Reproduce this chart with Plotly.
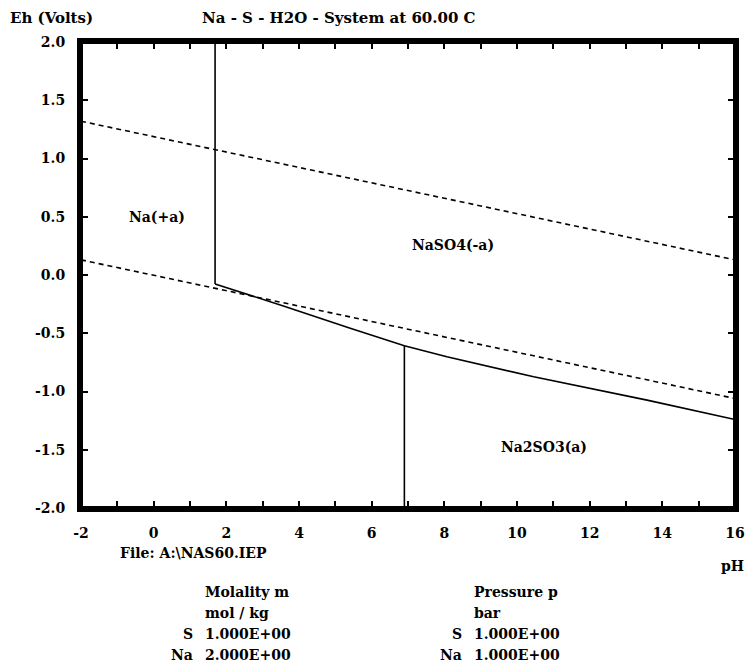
import plotly.graph_objects as go

# ---- data ----
ph_upper_water = [-2, 16]
eh_upper_water = [1.32, 0.13]
ph_lower_water = [-2, 16]
eh_lower_water = [0.13, -1.06]

ph_b1 = [1.69, 1.69]
eh_b1 = [2.0, -0.077]
ph_b2 = [1.69, 3.57, 5.41, 6.90, 8.07, 10.46, 13.58, 16.0]
eh_b2 = [-0.077, -0.266, -0.458, -0.607, -0.701, -0.874, -1.074, -1.24]
ph_b3 = [6.90, 6.90]
eh_b3 = [-0.607, -2.0]

label_text = ["Na(+a)", "NaSO4(-a)", "Na2SO3(a)"]
label_ph = [0.1, 8.25, 10.75]
label_eh = [0.5, 0.26, -1.48]

x_tickvals = list(range(-2, 17))
x_ticktext = [str(v) if v % 2 == 0 else "" for v in x_tickvals]
y_tickvals = [-2.0, -1.5, -1.0, -0.5, 0.0, 0.5, 1.0, 1.5, 2.0]
y_ticktext = ["-2.0", "-1.5", "-1.0", "-0.5", "0.0", "0.5", "1.0", "1.5", "2.0"]

FONT = "DejaVu Serif"
W, H = 749, 671
L, R, T, B = 81, 735, 42, 508

fig = go.Figure()
dash_style = dict(color="black", width=1.6, dash="5px,4px")
fig.add_trace(go.Scatter(x=ph_upper_water, y=eh_upper_water, mode="lines", line=dash_style))
fig.add_trace(go.Scatter(x=ph_lower_water, y=eh_lower_water, mode="lines", line=dash_style))
solid = dict(color="black", width=1.6)
for xs, ys in [(ph_b1, eh_b1), (ph_b2, eh_b2), (ph_b3, eh_b3)]:
    fig.add_trace(go.Scatter(x=xs, y=ys, mode="lines", line=solid))

tfont = dict(family=FONT, size=14, color="black", weight="bold")
hfont = dict(family=FONT, size=15, color="black", weight="bold")
for t, x, y in zip(label_text, label_ph, label_eh):
    fig.add_annotation(x=x, y=y, text=t, showarrow=False, font=tfont)


def px(xp):
    return (xp - L) / (R - L)


def py(yp):
    return (B - yp) / (B - T)


def note(text, x, y, anchor="left", font=tfont):
    fig.add_annotation(xref="paper", yref="paper", x=px(x), y=py(y), text=text,
                       showarrow=False, xanchor=anchor, yanchor="middle", font=font)


note("Eh (Volts)", 8, 18, font=hfont)
note("Na - S - H2O - System at 60.00 C", 200, 18, font=hfont)
note("File: A:\\NAS60.IEP", 118, 553)
note("pH", 746, 566, "right")
note("Molality m", 203, 592)
note("mol / kg", 203, 613)
note("S", 195, 634, "right")
note("1.000E+00", 203, 634)
note("Na", 195, 655, "right")
note("2.000E+00", 203, 655)
note("Pressure p", 472, 592)
note("bar", 472, 613)
note("S", 464, 634, "right")
note("1.000E+00", 472, 634)
note("Na", 464, 655, "right")
note("1.000E+00", 472, 655)

# heavy frame around the plotting area
fig.add_shape(type="rect", xref="paper", yref="paper", x0=0, y0=0, x1=1, y1=1,
              line=dict(color="black", width=4), layer="above")

axis_common = dict(showgrid=False, zeroline=False, showline=True, linecolor="black",
                   linewidth=4, mirror="allticks", ticks="inside", ticklen=7,
                   tickwidth=1.5, tickcolor="black",
                   tickfont=dict(family=FONT, size=14, color="black", weight="bold"))
fig.update_xaxes(range=[-2, 16], tickmode="array", tickvals=x_tickvals,
                 ticktext=x_ticktext, ticklabelstandoff=9, **axis_common)
fig.update_yaxes(range=[-2, 2], tickmode="array", tickvals=y_tickvals,
                 ticktext=y_ticktext, ticklabelstandoff=9, **axis_common)
fig.update_layout(width=W, height=H, showlegend=False,
                  plot_bgcolor="white", paper_bgcolor="white",
                  margin=dict(l=L, r=W - R, t=T, b=H - B, autoexpand=False))
fig.write_html("out.html", config={"displayModeBar": False},
               post_script="document.body.style.margin='0';document.body.style.overflow='hidden';")
